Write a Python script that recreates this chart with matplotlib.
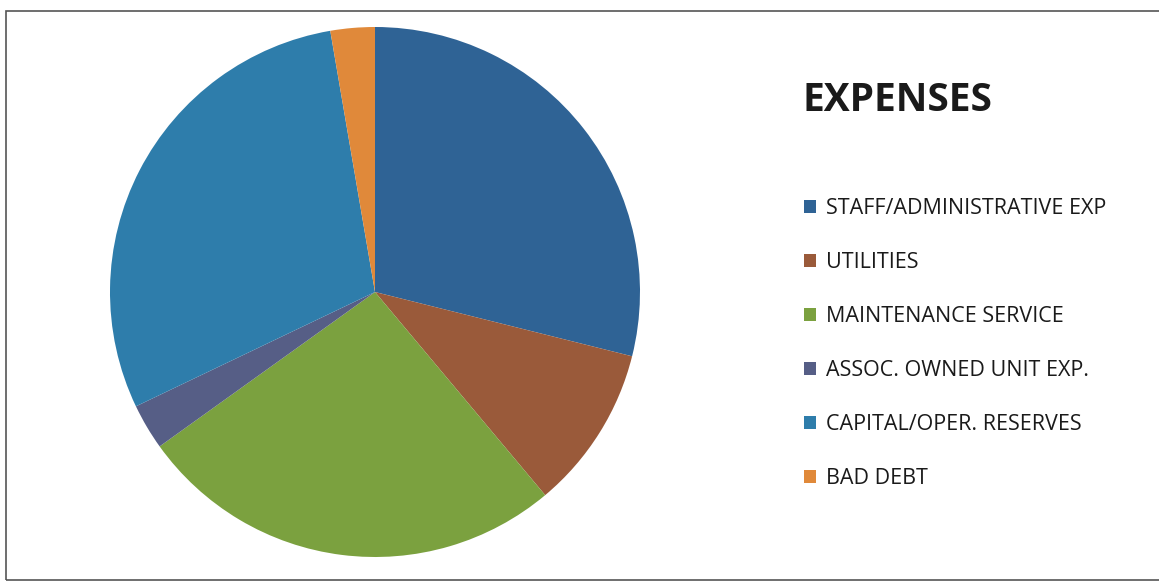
import matplotlib
matplotlib.use('Agg')
import matplotlib.pyplot as plt
from matplotlib.patches import Rectangle

labels = ['STAFF/ADMINISTRATIVE EXP', 'UTILITIES', 'MAINTENANCE SERVICE',
          'ASSOC. OWNED UNIT EXP.', 'CAPITAL/OPER. RESERVES', 'BAD DEBT']
shares = [28.9, 10.0, 26.2, 2.8, 29.4, 2.7]
colors = ['#2f6395', '#9a5a3a', '#7ba13f', '#565e86', '#2e7dab', '#e0893a']

W, H = 1159, 585
fig = plt.figure(figsize=(W / 100, H / 100), dpi=100)
plt.rcParams['font.family'] = ['Open Sans', 'DejaVu Sans']

# frame like the scanned chart border
fig.patches.append(Rectangle((6 / W, 5 / H), 1.2, (H - 16) / H, transform=fig.transFigure,
                             fill=False, ec='#555555', lw=1.2))

ax = fig.add_axes([110 / W, 23 / H, 530 / W, 540 / H])
wedges, _ = ax.pie(shares, colors=colors, startangle=90, counterclock=False,
                   wedgeprops=dict(linewidth=0))
ax.set_xlim(-1, 1)
ax.set_ylim(-1, 1)
ax.set_aspect('equal')
ax.axis('off')

fig.text(803 / W, 1 - 100 / H, 'EXPENSES', fontsize=28, fontweight='bold',
         va='center', ha='left', color='#1a1a1a')

leg = fig.legend(wedges, labels, loc='upper left', bbox_to_anchor=(804 / W, 1 - 198 / H),
                 frameon=False, fontsize=15.5, handlelength=0.55, handleheight=0.55,
                 handletextpad=0.45, labelspacing=1.535, borderpad=0, borderaxespad=0)
for t in leg.get_texts():
    t.set_color('#1a1a1a')

fig.savefig('out.png', dpi=100)
